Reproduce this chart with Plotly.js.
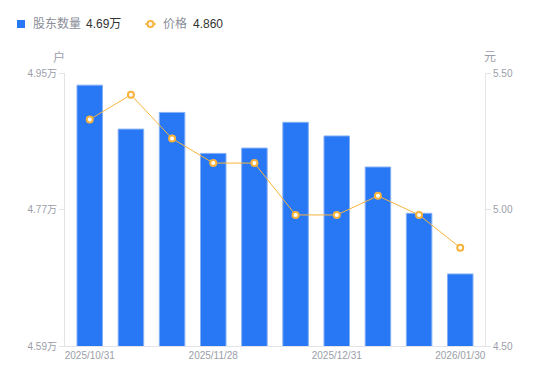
<!DOCTYPE html>
<html>
<head>
<meta charset="utf-8">
<script src="https://cdn.plot.ly/plotly-3.0.1.min.js"></script>
<style>html,body{margin:0;padding:0;background:#fff;}#chart{width:550px;height:381px;}</style>
</head>
<body>
<div id="chart"></div>
<script>
// Data
var dates = ['2025/10/31','2025/11/10','2025/11/20','2025/11/28','2025/12/10','2025/12/19','2025/12/31','2026/01/09','2026/01/20','2026/01/30'];
var holders = [4.934, 4.876, 4.898, 4.844, 4.851, 4.885, 4.867, 4.826, 4.765, 4.685]; // 万户
var prices = [5.33, 5.42, 5.26, 5.17, 5.17, 4.98, 4.98, 5.05, 4.98, 4.86]; // 元
var xTickVals = ['2025/10/31','2025/11/28','2025/12/31','2026/01/30'];
var leftTickVals = [4.59, 4.77, 4.95];
var leftTickText = ['4.59万', '4.77万', '4.95万'];
var rightTickVals = [4.50, 5.00, 5.50];
var rightTickText = ['4.50', '5.00', '5.50'];
var holderLegend = '股东数量';
var priceLegend = '价格';
var holderLatest = '4.69万';
var priceLatest = '4.860';

var FONT = '"Liberation Sans", "Noto Sans CJK SC", sans-serif';
var gray = '#9b9ea9';
var blue = '#2878f5';
var orange = '#f8b33c';
var traces = [
  {
    type: 'bar', x: dates, y: holders, yaxis: 'y', name: holderLegend,
    marker: {color: blue, line: {color: '#86b0f5', width: 1}},
    width: 0.62
  },
  {
    type: 'scatter', mode: 'lines+markers', x: dates, y: prices, yaxis: 'y2', name: priceLegend,
    line: {color: orange, width: 1},
    marker: {symbol: 'circle', size: 6, color: '#ffffff', line: {color: orange, width: 2}}
  }
];
// pixel -> paper helpers for the legend decorations (plot area 65..485 x 73..346)
function px(x) { return (x - 65) / 420; }
function py(y) { return (346 - y) / 273; }
var layout = {
  width: 550, height: 381,
  margin: {l: 65, r: 65, t: 73, b: 35},
  paper_bgcolor: '#fff', plot_bgcolor: '#fff',
  font: {family: FONT, size: 10, color: gray},
  showlegend: false,
  xaxis: {
    type: 'category', tickmode: 'array', tickvals: xTickVals, ticktext: xTickVals,
    showgrid: false, showline: true, linecolor: '#e3e4e8', linewidth: 1,
    ticks: '', tickfont: {size: 10, color: gray}, zeroline: false, automargin: false
  },
  yaxis: {
    range: [4.59, 4.95], tickmode: 'array', tickvals: leftTickVals, ticktext: leftTickText,
    showgrid: false, showline: true, linecolor: '#e3e4e8', linewidth: 1, automargin: false,
    ticks: 'outside', ticklen: 5, tickcolor: '#e3e4e8', tickfont: {size: 10, color: gray}, zeroline: false
  },
  yaxis2: {
    overlaying: 'y', side: 'right', range: [4.50, 5.50], tickmode: 'array', tickvals: rightTickVals, ticktext: rightTickText,
    showgrid: false, showline: true, linecolor: '#e3e4e8', linewidth: 1, automargin: false,
    ticks: 'outside', ticklen: 5, tickcolor: '#e3e4e8', tickfont: {size: 10, color: gray}, zeroline: false
  },
  shapes: [
    {type: 'rect', xref: 'paper', yref: 'paper', x0: px(17), x1: px(25), y0: py(28), y1: py(20), fillcolor: blue, line: {width: 0}},
    {type: 'line', xref: 'paper', yref: 'paper', x0: px(145), x1: px(156), y0: py(24), y1: py(24), line: {color: orange, width: 1.5}},
    {type: 'circle', xref: 'paper', yref: 'paper', x0: px(147.5), x1: px(153.5), y0: py(27), y1: py(21), fillcolor: '#fff', line: {color: orange, width: 2}}
  ],
  annotations: [
    {text: holderLegend, xref: 'paper', yref: 'paper', x: px(31), y: py(24), xanchor: 'left', yanchor: 'middle', showarrow: false, font: {family: FONT, size: 12, color: '#8a8d98'}},
    {text: holderLatest, xref: 'paper', yref: 'paper', x: px(84), y: py(24), xanchor: 'left', yanchor: 'middle', showarrow: false, font: {family: FONT, size: 12, color: '#333'}},
    {text: priceLegend, xref: 'paper', yref: 'paper', x: px(161), y: py(24), xanchor: 'left', yanchor: 'middle', showarrow: false, font: {family: FONT, size: 12, color: '#8a8d98'}},
    {text: priceLatest, xref: 'paper', yref: 'paper', x: px(191), y: py(24), xanchor: 'left', yanchor: 'middle', showarrow: false, font: {family: FONT, size: 12, color: '#333'}},
    {text: '户', xref: 'paper', yref: 'paper', x: px(59), y: py(57), xanchor: 'center', yanchor: 'middle', showarrow: false, font: {family: FONT, size: 12, color: gray}},
    {text: '元', xref: 'paper', yref: 'paper', x: px(490), y: py(57), xanchor: 'center', yanchor: 'middle', showarrow: false, font: {family: FONT, size: 12, color: gray}}
  ]
};
Plotly.newPlot('chart', traces, layout, {displayModeBar: false, staticPlot: true});
</script>
</body>
</html>
